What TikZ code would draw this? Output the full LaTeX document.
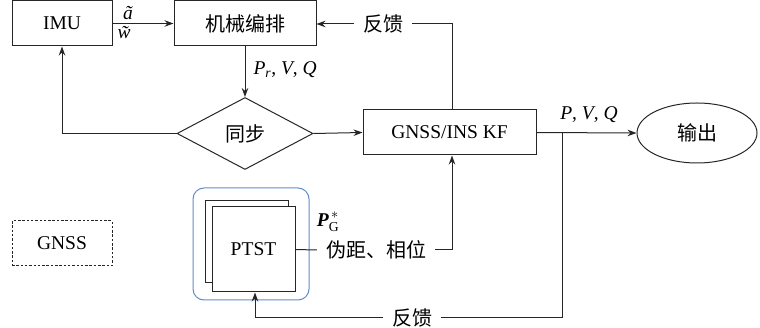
\documentclass[tikz,border=0pt]{standalone}
\usepackage{amsmath}
\usepackage{fontspec}
\setmainfont{Liberation Serif}
\newfontfamily\cjk{Noto Sans CJK SC}
\usetikzlibrary{shapes.geometric,arrows.meta}
\definecolor{boxblue}{RGB}{100,140,200}
\newcommand{\cjkt}[1]{{\cjk\fontsize{20}{22}\selectfont #1}}
\begin{document}
\begin{tikzpicture}[x=1pt,y=-1pt,
  every node/.style={font=\fontsize{19.5}{22}\selectfont},
  ln/.style={line width=1pt,draw=black!85},
  arr/.style={ln,-{Stealth[length=9pt,width=6.5pt]}},
  blk/.style={draw=black!85,line width=1pt,rectangle,inner sep=0pt},
  lbl/.style={fill=white,inner sep=0pt,inner xsep=9pt}]
\useasboundingbox (0,0) rectangle (760,328);
% blocks
\node[blk,minimum width=100pt,minimum height=45pt] (imu) at (62,23.5) {IMU};
\node[blk,minimum width=142pt,minimum height=45pt] (mech) at (245,23.5) {\cjkt{机械编排}};
\node[draw=black!85,line width=1pt,diamond,minimum width=136pt,minimum height=72pt,inner sep=0pt,aspect=1.9] (sync) at (245,133.5) {\cjkt{同步}};
\node[blk,minimum width=173pt,minimum height=45pt] (kf) at (449.5,132.5) {GNSS/INS KF};
\node[draw=black!85,line width=1pt,ellipse,minimum width=120pt,minimum height=60pt,inner sep=0pt] (out) at (697,133) {\cjkt{输出}};
\node[blk,dash pattern=on 2.5pt off 1.8pt,minimum width=100pt,minimum height=45pt] (gnss) at (62,243.5) {GNSS};
% PTST group
\node[draw=boxblue,line width=1pt,rounded corners=11pt,minimum width=116pt,minimum height=112pt] (grp) at (251,244) {};
\node[blk,fill=white,minimum width=83pt,minimum height=82pt] (ptstb) at (246.5,242) {};
\node[blk,fill=white,minimum width=83pt,minimum height=85pt] (ptst) at (253.5,249.5) {PTST};
% connectors
\draw[arr] (imu.east) -- (mech.west);
\node[anchor=south,inner sep=1pt] (acc) at (128,21) {\textit{\~a}};
\node[anchor=north,inner sep=1pt] (gyr) at (128,25) {\textit{\~w}};
\draw[arr] (mech.south) -- (sync.north);
\node[anchor=west] (pvq1) at (250,70) {\textit{P}$_{\textit{r}}$, \textit{V}, \textit{Q}};
\draw[arr] (sync.west) -| (imu.south);
\draw[arr] (sync.east) -- (kf.west);
% feedback top
\coordinate (kft) at (452,110);
\coordinate (fbc) at (452,24);
\node[lbl] (fb1) at (383,24) {\cjkt{反馈}};
\draw[ln] (kft) -- (fbc) -- (fb1.east);
\draw[arr] (fb1.west) -- (mech.east |- fb1.west);
% output
\coordinate (br) at (562,132.5);
\draw[arr] (kf.east) -- (out.west);
\node (pvq2) at (589,115) {\textit{P}, \textit{V}, \textit{Q}};
% bottom feedback
\coordinate (bb) at (562,318);
\coordinate (bl) at (255,318);
\node[lbl] (fb2) at (412,318) {\cjkt{反馈}};
\draw[ln] (br) -- (bb) -- (fb2.east);
\draw[arr] (fb2.west) -- (bl) -- (ptst.south -| bl);
% pseudorange
\node[lbl] (pr) at (376,250) {\cjkt{伪距、相位}};
\node (pg) at (328,222) {\textbf{\textit{P}}$_{\mathrm{G}}^{\,*}$};
\coordinate (prc) at (452,250);
\draw[ln] (ptst.east) -- (pr.west);
\draw[ln] (pr.east) -- (prc);
\draw[arr] (prc) -- (kf.south -| prc);
\end{tikzpicture}
\end{document}
